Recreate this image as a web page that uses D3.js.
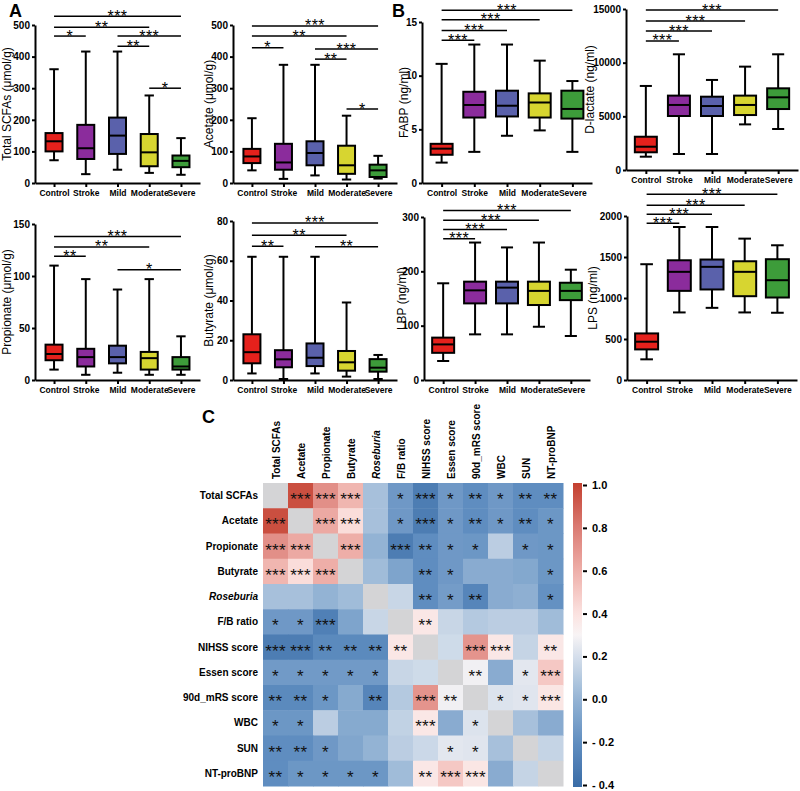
<!DOCTYPE html>
<html><head><meta charset="utf-8">
<script src="https://cdn.jsdelivr.net/npm/d3@7"></script>
<style>
body{margin:0;background:#fff}
svg{display:block}
text{font-family:Arial,"Liberation Sans",Helvetica,sans-serif}
</style>
</head><body>
<svg id="c" width="800" height="791"></svg>
<script>
// ---------- DATA ----------
const groups = ["Control","Stroke","Mild","Moderate","Severe"];
const groupColors = ["#e5211c","#8b2c9c","#5a61ab","#d7d530","#3d9c3a"];

// box stats: [min, q1, median, q3, max]
const totalSCFAsStats = [[72,100,132,158,360],[28,76,110,184,416],[42,92,150,207,416],[32,53,97,155,277],[26,50,70,87,142]];
const totalSCFAsSig = [[0,4,"***",528],[0,3,"**",493],[0,1,"*",465],[2,4,"***",465],[2,3,"**",433],[3,4,"*",300]];
const totalSCFAsTicks = [0,100,200,300,400,500];

const acetateStats = [[40,63,84,108,205],[13,42,65,124,374],[24,56,95,132,374],[11,29,56,118,213],[14,19,40,58,86]];
const acetateSig = [[0,4,"***",497],[0,3,"**",465],[0,1,"*",428],[2,4,"***",424],[2,3,"**",392],[3,4,"*",234]];
const acetateTicks = [0,100,200,300,400,500];

const propionateStats = [[10,19,25,34,110],[5,13,22,30,97],[7,16,22,33,87],[5,10,21,27,97],[5,10,13,22,42]];
const propionateSig = [[0,4,"***",138],[0,3,"**",128],[0,1,"**",119],[2,4,"*",106]];
const propionateTicks = [0,50,100,150];

const butyrateStats = [[3.3,8.4,14,23,62],[0.5,6.4,10.4,15,62],[3.3,7,11.2,18.4,62],[1.7,4.7,8.9,14.6,39],[0.5,4.2,6.2,10.5,12.6]];
const butyrateSig = [[0,4,"***",79],[0,3,"**",72.8],[0,1,"**",67.3],[2,4,"**",67]];
const butyrateTicks = [0,20,40,60,80];

const fabpStats = [[1.9,2.63,3.2,3.65,11.1],[2.9,6.1,7.27,8.5,12.9],[4.4,6.2,7.2,8.6,12.9],[4.9,6.1,7.5,8.35,11.4],[2.9,6.0,6.9,8.6,9.5]];
const fabpSig = [[0,4,"***",16.1],[0,3,"***",15.2],[0,2,"***",14.2],[0,1,"***",13.3]];
const fabpTicks = [0,5,10,15];

const dlactateStats = [[1240,1650,2170,3100,7830],[1490,5030,6060,6930,10780],[1490,5030,5960,6830,8390],[4250,5120,6060,6930,9630],[3820,5680,6770,7610,10780]];
const dlactateSig = [[0,4,"***",14900],[0,3,"***",13880],[0,2,"***",12950],[0,1,"***",12020]];
const dlactateTicks = [0,5000,10000,15000];

const lbpStats = [[35,50,65.5,78,178],[84,141,165,181,253],[84,141,170,181,244],[98,138,164,181,253],[81,147,164,179,203]];
const lbpSig = [[0,4,"***",312],[0,3,"***",294],[0,2,"***",277],[0,1,"***",260]];
const lbpTicks = [0,100,200,300];

const lpsStats = [[252,373,467,568,1412],[824,1087,1319,1460,1866],[880,1104,1380,1469,1866],[824,1022,1319,1448,1724],[820,1006,1217,1473,1643]];
const lpsSig = [[0,4,"***",2264],[0,3,"***",2130],[0,2,"***",2020],[0,1,"***",1911]];
const lpsTicks = [0,500,1000,1500,2000];

// heatmap
const hmVars = ["Total SCFAs","Acetate","Propionate","Butyrate","Roseburia","F/B ratio","NIHSS score","Essen score","90d_mRS score","WBC","SUN","NT-proBNP"];
const hmCorr = [
 [null,0.95,0.72,0.57,0.06,-0.14,-0.30,-0.14,-0.20,-0.14,-0.20,-0.20],
 [0.95,null,0.62,0.42,0.06,-0.14,-0.30,-0.14,-0.20,-0.14,-0.20,-0.15],
 [0.72,0.62,null,0.60,0.00,-0.30,-0.20,-0.14,-0.15,0.12,-0.14,-0.15],
 [0.57,0.42,0.60,null,0.04,-0.08,-0.20,-0.14,-0.04,-0.04,-0.06,-0.15],
 [0.06,0.06,0.00,0.04,null,0.16,-0.20,-0.12,-0.25,-0.04,-0.02,-0.18],
 [-0.14,-0.14,-0.28,-0.08,0.16,null,0.37,0.16,0.10,0.12,0.12,0.04],
 [-0.30,-0.30,-0.22,-0.22,-0.22,0.37,null,0.18,0.70,0.37,0.15,0.37],
 [-0.13,-0.13,-0.13,-0.13,-0.13,0.16,0.18,null,0.28,-0.04,0.24,0.50],
 [-0.22,-0.22,-0.15,-0.05,-0.25,0.10,0.70,0.28,null,0.22,0.23,0.38],
 [-0.15,-0.15,0.12,-0.05,-0.05,0.14,0.37,-0.04,0.22,null,0.06,-0.04],
 [-0.20,-0.20,-0.14,-0.07,0.00,0.12,0.17,0.24,0.23,0.06,null,0.15],
 [-0.20,-0.15,-0.15,-0.15,-0.15,0.04,0.37,0.50,0.38,-0.04,0.15,null]
];
const hmStars = [
 ["","***","***","***","","*","***","*","**","*","**","**"],
 ["***","","***","***","","*","***","*","**","*","**","*"],
 ["***","***","","***","","***","**","*","*","","*","*"],
 ["***","***","***","","","","**","*","","","","*"],
 ["","","","","","","**","*","**","","","*"],
 ["*","*","***","","","","**","","","","",""],
 ["***","***","**","**","**","**","","","***","***","","**"],
 ["*","*","*","*","*","","","","**","","*","***"],
 ["**","**","*","","**","","***","**","","*","*","***"],
 ["*","*","","","","","***","","*","","",""],
 ["**","**","*","","","","","*","*","","",""],
 ["**","*","*","*","*","","**","***","***","","",""]
];
const cbTicks = [-0.4,-0.2,0,0.2,0.4,0.6,0.8,1.0];
const cbDomain = [-0.4,-0.2,0.0,0.2,0.3,0.4,0.6,0.8,1.0];
const cbColors = ["#3a6ca6","#5f8dc0","#93b3d4","#d5dfeb","#f8f4f5","#fbe2e0","#eeaea8","#da7a72","#c4402f"];

// ---------- LAYOUT ----------
const panels = [
 {title:"Total SCFAs (μmol/g)", stats:totalSCFAsStats, sig:totalSCFAsSig, ticks:totalSCFAsTicks, x0:35,x1:200,yb:183,yt:25,tx:11,bw:17},
 {title:"Acetate (μmol/g)", stats:acetateStats, sig:acetateSig, ticks:acetateTicks, x0:233,x1:397,yb:183,yt:25,tx:213,bw:17},
 {title:"Propionate (μmol/g)", stats:propionateStats, sig:propionateSig, ticks:propionateTicks, x0:35,x1:200,yb:380,yt:224,tx:11,bw:17},
 {title:"Butyrate (μmol/g)", stats:butyrateStats, sig:butyrateSig, ticks:butyrateTicks, x0:233,x1:397,yb:380,yt:221,tx:213,bw:17},
 {title:"FABP (ng/ml)", stats:fabpStats, sig:fabpSig, ticks:fabpTicks, x0:422,x1:592,yb:183,yt:22,tx:408,bw:22},
 {title:"D-lactate (ng/ml)", stats:dlactateStats, sig:dlactateSig, ticks:dlactateTicks, x0:626,x1:798,yb:170,yt:9,tx:594,bw:22},
 {title:"LBP (ng/ml)", stats:lbpStats, sig:lbpSig, ticks:lbpTicks, x0:424,x1:590,yb:380,yt:217,tx:406,bw:22},
 {title:"LPS (ng/ml)", stats:lpsStats, sig:lpsSig, ticks:lpsTicks, x0:627,x1:797,yb:380,yt:216,tx:597,bw:23}
];

const svg = d3.select("#c");

panels.forEach(p => {
  const g = svg.append("g");
  const x = d3.scalePoint().domain(groups).range([p.x0,p.x1]).padding(0.6);
  const y = d3.scaleLinear().domain([0, p.ticks[p.ticks.length-1]]).range([p.yb,p.yt]);

  // axes
  const ya = g.append("g").attr("transform",`translate(${p.x0},0)`)
    .call(d3.axisLeft(y).tickValues(p.ticks).tickSize(3).tickPadding(2).tickSizeOuter(0).tickFormat(d3.format("d")));
  const xa = g.append("g").attr("transform",`translate(0,${p.yb})`)
    .call(d3.axisBottom(x).tickSize(4).tickSizeOuter(0));
  [ya,xa].forEach(a=>{
    a.selectAll("path,line").attr("stroke","#000").attr("stroke-width",2);
    a.selectAll("text").attr("fill","#000").attr("font-weight","bold");
  });
  ya.selectAll("text").attr("font-size",10);
  xa.selectAll("text").attr("font-size",8.5);

  // y title
  g.append("text").attr("transform",`translate(${p.tx},${(p.yb+p.yt)/2}) rotate(-90)`)
    .attr("text-anchor","middle").attr("font-size",12).text(p.title);

  // boxes
  const bg = g.selectAll("g.box").data(p.stats).join("g").attr("class","box")
    .attr("transform",(d,i)=>`translate(${x(groups[i])},0)`);
  const cw = p.bw*0.55;
  bg.append("line").attr("y1",d=>y(d[0])).attr("y2",d=>y(d[1])).attr("stroke","#000").attr("stroke-width",2);
  bg.append("line").attr("y1",d=>y(d[3])).attr("y2",d=>y(d[4])).attr("stroke","#000").attr("stroke-width",2);
  bg.append("line").attr("x1",-cw/2).attr("x2",cw/2).attr("y1",d=>y(d[0])).attr("y2",d=>y(d[0])).attr("stroke","#000").attr("stroke-width",2);
  bg.append("line").attr("x1",-cw/2).attr("x2",cw/2).attr("y1",d=>y(d[4])).attr("y2",d=>y(d[4])).attr("stroke","#000").attr("stroke-width",2);
  bg.append("rect").attr("x",-p.bw/2).attr("width",p.bw)
    .attr("y",d=>y(d[3])).attr("height",d=>y(d[1])-y(d[3]))
    .attr("fill",(d,i)=>groupColors[i]).attr("stroke","#000").attr("stroke-width",2);
  bg.append("line").attr("x1",-p.bw/2).attr("x2",p.bw/2).attr("y1",d=>y(d[2])).attr("y2",d=>y(d[2])).attr("stroke","#000").attr("stroke-width",2);

  // significance brackets
  const sg = g.selectAll("g.sig").data(p.sig).join("g").attr("class","sig");
  sg.append("line").attr("x1",d=>x(groups[d[0]])).attr("x2",d=>x(groups[d[1]]))
    .attr("y1",d=>y(d[3])).attr("y2",d=>y(d[3])).attr("stroke","#000").attr("stroke-width",1.5);
  sg.append("text").attr("x",d=>(x(groups[d[0]])+x(groups[d[1]]))/2).attr("y",d=>y(d[3])+5.5)
    .attr("text-anchor","middle").attr("font-size",16).attr("letter-spacing",0.4).text(d=>d[2]);
});

// panel letters
[["A",9,17],["B",392,17],["C",202,423]].forEach(([t,px,py])=>{
  svg.append("text").attr("x",px).attr("y",py).attr("font-size",18).attr("font-weight","bold").text(t);
});

// ---------- HEATMAP ----------
const hx = d3.scaleBand().domain(hmVars).range([263,563]);
const hy = d3.scaleBand().domain(hmVars).range([483,786]);
const color = d3.scaleLinear().domain(cbDomain).range(cbColors).clamp(true);
const cells = [];
hmCorr.forEach((row,i)=>row.forEach((v,j)=>cells.push({r:hmVars[i],c:hmVars[j],v:v,s:hmStars[i][j]})));
const hg = svg.append("g");
hg.selectAll("rect").data(cells).join("rect")
  .attr("x",d=>hx(d.c)).attr("y",d=>hy(d.r)).attr("width",hx.bandwidth()+0.5).attr("height",hy.bandwidth()+0.5)
  .attr("fill",d=>d.v===null?"#d4d4d6":color(d.v));
hg.selectAll("text.st").data(cells.filter(d=>d.s)).join("text").attr("class","st")
  .attr("x",d=>hx(d.c)+hx.bandwidth()/2).attr("y",d=>hy(d.r)+hy.bandwidth()/2+9.5)
  .attr("text-anchor","middle").attr("font-size",17).attr("letter-spacing",0.3).attr("fill","#111").text(d=>d.s);

// row labels
hg.selectAll("text.rl").data(hmVars).join("text").attr("class","rl")
  .attr("x",258).attr("y",d=>hy(d)+hy.bandwidth()/2+3.5).attr("text-anchor","end")
  .attr("font-size",10).attr("font-weight","bold")
  .attr("font-style",d=>d==="Roseburia"?"italic":"normal").text(d=>d);
// column labels
hg.selectAll("text.cl").data(hmVars).join("text").attr("class","cl")
  .attr("transform",d=>`translate(${hx(d)+hx.bandwidth()/2+4},479) rotate(-90)`)
  .attr("text-anchor","start").attr("font-size",10).attr("font-weight","bold")
  .attr("font-style",d=>d==="Roseburia"?"italic":"normal").text(d=>d);

// colorbar
const cbY = d3.scaleLinear().domain([-0.4,1.0]).range([785,485]);
const defs = svg.append("defs");
const grad = defs.append("linearGradient").attr("id","cbg").attr("x1",0).attr("y1",1).attr("x2",0).attr("y2",0);
d3.range(0,1.0001,0.02).forEach(t=>{
  const v = -0.4 + t*1.4;
  grad.append("stop").attr("offset",t).attr("stop-color",color(v));
});
svg.append("rect").attr("x",573).attr("y",483).attr("width",9).attr("height",304).attr("fill","url(#cbg)");
const cba = svg.append("g").attr("transform","translate(583,0)")
  .call(d3.axisRight(cbY).tickValues(cbTicks).tickSize(4).tickPadding(5)
    .tickFormat(v=>v<0?"- "+Math.abs(v).toFixed(1):v.toFixed(1)));
cba.select(".domain").remove();
cba.selectAll("line").attr("stroke","#000").attr("stroke-width",2);
cba.selectAll("text").attr("fill","#000").attr("font-size",11).attr("font-weight","bold");
</script>
</body></html>
